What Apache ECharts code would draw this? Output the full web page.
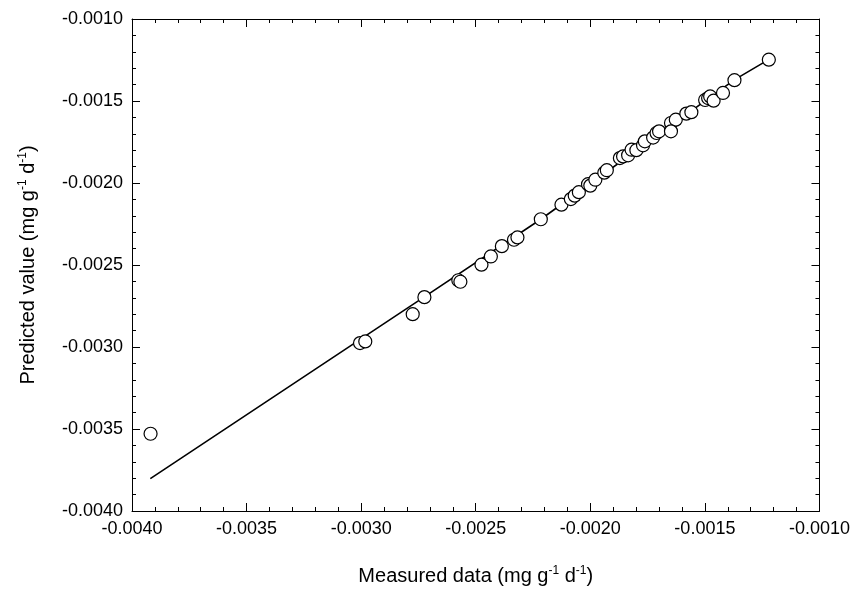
<!DOCTYPE html>
<html>
<head>
<meta charset="utf-8">
<script src="https://cdn.jsdelivr.net/npm/echarts@6/dist/echarts.min.js"></script>
<style>
html,body{margin:0;padding:0;background:#fff;}
#chart{width:853px;height:592px;}
</style>
</head>
<body>
<div id="chart"></div>
<script>
// Measured (x) vs predicted (y) values, mg g-1 d-1
var measured = [
  -0.003919, -0.003005, -0.002982, -0.002775, -0.002724, -0.002576, -0.002567,
  -0.002475, -0.002434, -0.002386, -0.002333, -0.002318, -0.002216, -0.002126,
  -0.002085, -0.002068, -0.002050, -0.002010, -0.002000, -0.001978, -0.001939,
  -0.001928, -0.001871, -0.001857, -0.001835, -0.001820, -0.001799, -0.001770,
  -0.001762, -0.001726, -0.001711, -0.001700, -0.001648, -0.001627, -0.001648,
  -0.001581, -0.001559, -0.001499, -0.001486, -0.001477, -0.001462, -0.001421,
  -0.001371, -0.001221
];
var predicted = [
  -0.003529, -0.002976, -0.002966, -0.002800, -0.002696, -0.002593, -0.002602,
  -0.002498, -0.002448, -0.002385, -0.002346, -0.002332, -0.002221, -0.002132,
  -0.002098, -0.002077, -0.002056, -0.002007, -0.002016, -0.001980, -0.001937,
  -0.001922, -0.001848, -0.001838, -0.001831, -0.001797, -0.001800, -0.001770,
  -0.001746, -0.001723, -0.001695, -0.001685, -0.001634, -0.001614, -0.001685,
  -0.001577, -0.001568, -0.001494, -0.001482, -0.001472, -0.001498, -0.001451,
  -0.001373, -0.001248
];
// Fitted line
var fitX = [-0.003920, -0.002726, -0.002216, -0.001370, -0.001222];
var fitY = [-0.003803, -0.002696, -0.002221, -0.001370, -0.001248];
// Axis ticks
var axisMin = -0.0040, axisMax = -0.0010, axisStep = 0.0005;

var pts = measured.map(function (x, i) { return [x, predicted[i]]; });
var fitPts = fitX.map(function (x, i) { return [x, fitY[i]]; });

var font = 'Liberation Sans, Arial, sans-serif';
function fmt(v) { return v.toFixed(4); }

var richName = {
  n: {fontSize: 20, fontFamily: font, color: '#000'},
  s: {fontSize: 12, fontFamily: font, color: '#000', padding: [0, 0, 10, 0]}
};

function mainAxis(extra) {
  var a = {
    type: 'value', min: axisMin, max: axisMax, interval: axisStep,
    axisLine: {show: true, onZero: false, lineStyle: {color: '#000', width: 1}},
    axisTick: {show: true, inside: true, length: 8, lineStyle: {color: '#000', width: 1}},
    minorTick: {show: true, splitNumber: 5, length: 4, lineStyle: {color: '#000', width: 1}},
    splitLine: {show: false},
    axisLabel: {show: true, formatter: fmt, color: '#000', fontSize: 18, fontFamily: font, margin: 9}
  };
  for (var k in extra) a[k] = extra[k];
  return a;
}

var chart = echarts.init(document.getElementById('chart'), null, {renderer: 'canvas'});
chart.setOption({
  backgroundColor: '#fff',
  animation: false,
  grid: {left: 132, right: 33, top: 19, bottom: 81, containLabel: false},
  xAxis: [
    mainAxis({
      position: 'bottom',
      name: '{n|Measured data (mg g}{s|-1}{n| d}{s|-1}{n|)}',
      nameLocation: 'middle', nameGap: 54,
      nameTextStyle: {rich: richName}
    }),
    mainAxis({position: 'top', axisLabel: {show: false}})
  ],
  yAxis: [
    mainAxis({
      position: 'left',
      name: '{n|Predicted value (mg g}{s|-1}{n| d}{s|-1}{n|)}',
      nameLocation: 'middle', nameGap: 93, nameRotate: 90,
      nameTextStyle: {rich: richName}
    }),
    mainAxis({position: 'right', axisLabel: {show: false}})
  ],
  series: [
    {
      type: 'line', data: fitPts, xAxisIndex: 0, yAxisIndex: 0,
      showSymbol: false, symbol: 'none', smooth: false,
      lineStyle: {color: '#000', width: 1.6}, z: 2
    },
    {
      type: 'scatter', data: pts, xAxisIndex: 0, yAxisIndex: 0,
      symbol: 'circle', symbolSize: 13,
      itemStyle: {color: '#fff', borderColor: '#000', borderWidth: 1.2, opacity: 1}, z: 3
    }
  ]
});
</script>
</body>
</html>
